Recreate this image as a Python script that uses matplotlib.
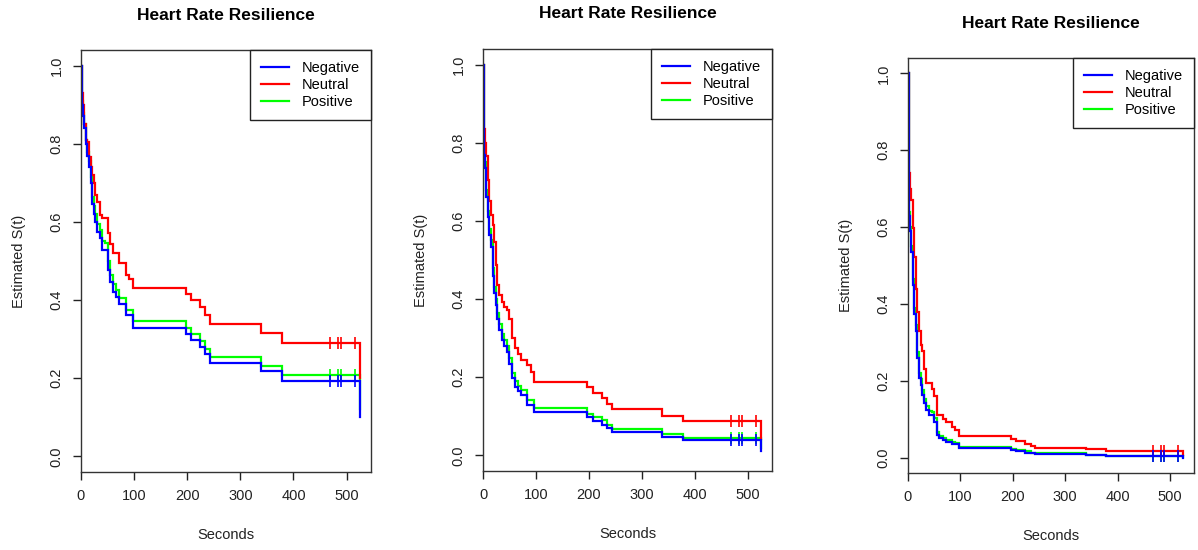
"""
Heart rate resilience: estimated survival curves by emotion group,
three panels side by side (R survfit style).
"""

import matplotlib
matplotlib.use('Agg')
import matplotlib.pyplot as plt

plt.rcParams['font.family'] = ['Liberation Sans', 'DejaVu Sans']

# event times (seconds), shared by all curves
times = [0, 1, 3, 6, 9, 12, 15, 18, 21, 24, 27, 31, 35, 40, 45, 50, 55, 60,
         66, 72, 78, 84, 90, 97, 197, 207, 224, 234, 243, 339, 378, 525]
censor_times = [468, 483, 489, 515]

# panel 1
neg_1 = [1.0, 0.90, 0.87, 0.84, 0.80, 0.77, 0.74, 0.70, 0.645, 0.62, 0.60, 0.575,
         0.56, 0.528, 0.528, 0.477, 0.447, 0.421, 0.409, 0.39, 0.39, 0.361, 0.361,
         0.329, 0.313, 0.297, 0.280, 0.261, 0.240, 0.218, 0.194, 0.10]
neu_1 = [1.0, 0.93, 0.90, 0.85, 0.81, 0.805, 0.767, 0.74, 0.72, 0.70, 0.67, 0.652,
         0.618, 0.61, 0.61, 0.571, 0.544, 0.52, 0.52, 0.494, 0.494, 0.464, 0.455,
         0.432, 0.415, 0.40, 0.381, 0.361, 0.340, 0.317, 0.289, 0.20]
pos_1 = [1.0, 0.91, 0.88, 0.85, 0.81, 0.78, 0.755, 0.715, 0.665, 0.64, 0.62, 0.595,
         0.58, 0.55, 0.545, 0.50, 0.465, 0.44, 0.425, 0.405, 0.405, 0.375, 0.375,
         0.346, 0.329, 0.312, 0.296, 0.276, 0.255, 0.232, 0.208, 0.12]

# panel 2
neg_2 = [1.0, 0.77, 0.735, 0.66, 0.61, 0.565, 0.534, 0.46, 0.415, 0.385, 0.35, 0.32,
         0.295, 0.28, 0.265, 0.235, 0.197, 0.175, 0.166, 0.155, 0.155, 0.13, 0.13,
         0.111, 0.098, 0.088, 0.078, 0.07, 0.06, 0.047, 0.04, 0.012]
neu_2 = [1.0, 0.835, 0.80, 0.765, 0.705, 0.65, 0.615, 0.59, 0.547, 0.487, 0.436, 0.41,
         0.393, 0.38, 0.372, 0.35, 0.30, 0.274, 0.26, 0.244, 0.244, 0.23, 0.214,
         0.188, 0.175, 0.16, 0.147, 0.132, 0.118, 0.101, 0.087, 0.043]
pos_2 = [1.0, 0.78, 0.75, 0.68, 0.625, 0.58, 0.55, 0.48, 0.43, 0.40, 0.365, 0.335,
         0.31, 0.295, 0.28, 0.25, 0.21, 0.19, 0.178, 0.167, 0.167, 0.142, 0.142,
         0.12, 0.107, 0.097, 0.09, 0.077, 0.067, 0.054, 0.045, 0.02]

# panel 3
neg_3 = [1.0, 0.63, 0.59, 0.536, 0.45, 0.375, 0.33, 0.259, 0.207, 0.19, 0.164, 0.142,
         0.125, 0.112, 0.112, 0.094, 0.06, 0.051, 0.045, 0.04, 0.04, 0.035, 0.035,
         0.024, 0.019, 0.017, 0.013, 0.011, 0.0085, 0.006, 0.004, 0.0]
neu_3 = [1.0, 0.74, 0.70, 0.67, 0.597, 0.523, 0.44, 0.38, 0.33, 0.294, 0.277, 0.23,
         0.195, 0.195, 0.178, 0.16, 0.11, 0.11, 0.10, 0.092, 0.092, 0.08, 0.073,
         0.056, 0.048, 0.043, 0.035, 0.030, 0.026, 0.022, 0.016, 0.008]
pos_3 = [1.0, 0.64, 0.60, 0.55, 0.465, 0.39, 0.345, 0.275, 0.22, 0.205, 0.177, 0.153,
         0.135, 0.122, 0.12, 0.102, 0.066, 0.057, 0.05, 0.045, 0.045, 0.04, 0.038,
         0.028, 0.022, 0.02, 0.016, 0.013, 0.011, 0.008, 0.0055, 0.002]

groups = ['Negative', 'Neutral', 'Positive']
colors = {'Negative': '#0000ff', 'Neutral': '#ff0000', 'Positive': '#00ff00'}
panels = [
    {'Negative': neg_1, 'Neutral': neu_1, 'Positive': pos_1},
    {'Negative': neg_2, 'Neutral': neu_2, 'Positive': pos_2},
    {'Negative': neg_3, 'Neutral': neu_3, 'Positive': pos_3},
]

W, H = 1198, 550
# axes boxes in pixels: left, top, right, bottom
boxes = [(81, 50, 371, 472), (483, 49, 772, 471), (908, 58, 1194, 473)]

fig = plt.figure(figsize=(W / 100, H / 100), dpi=100)

for curves, (l, t, r, b) in zip(panels, boxes):
    ax = fig.add_axes([l / W, 1 - b / H, (r - l) / W, (b - t) / H])
    aw, ah = r - l, b - t

    handles = {}
    # blue drawn last so it sits on top, like the original
    for g in ['Positive', 'Neutral', 'Negative']:
        vals = curves[g]
        line, = ax.step(times, vals, where='post', color=colors[g], lw=1.6,
                        solid_joinstyle='miter')
        ax.plot(censor_times, [vals[-2]] * len(censor_times), '+',
                color=colors[g], ms=8, mew=1.2)
        handles[g] = line

    ax.set_xlim(0, 546)
    ax.set_ylim(-0.04, 1.04)
    ax.set_xticks([0, 100, 200, 300, 400, 500])
    ax.set_yticks([0.0, 0.2, 0.4, 0.6, 0.8, 1.0])
    ax.set_yticklabels(['0.0', '0.2', '0.4', '0.6', '0.8', '1.0'])
    ax.tick_params(direction='out', length=5.5, width=1, pad=7,
                   labelsize=10.5, colors='#222222')
    for lab in ax.get_yticklabels():
        lab.set_rotation(90)
        lab.set_va('center')
    for sp in ax.spines.values():
        sp.set_color('#333333')
        sp.set_linewidth(1)

    ax.text(0.5, 1 + 35 / ah, 'Heart Rate Resilience', transform=ax.transAxes,
            ha='center', va='center', fontsize=12.5, fontweight='bold')
    ax.text(-62 / aw, 0.5, 'Estimated S(t)', transform=ax.transAxes,
            rotation=90, ha='center', va='center', fontsize=10.5, color='#222222')
    ax.text(0.5, -63 / ah, 'Seconds', transform=ax.transAxes,
            ha='center', va='center', fontsize=10.5, color='#222222')

    leg = ax.legend([handles[g] for g in groups], groups, loc='upper right',
                    borderaxespad=0, fancybox=False, framealpha=1,
                    edgecolor='#222222', fontsize=10.5, handlelength=1.9,
                    handletextpad=0.9, labelspacing=0.2, borderpad=0.75)
    leg.get_frame().set_linewidth(1)

fig.savefig('out.png', dpi=100)
